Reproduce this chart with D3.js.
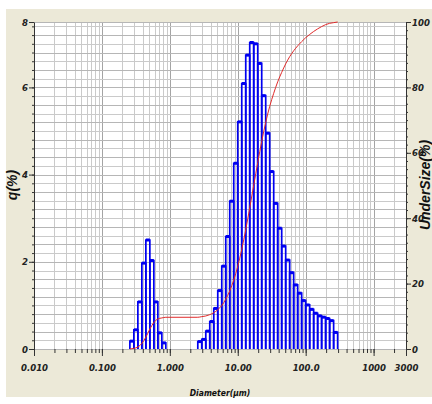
<!DOCTYPE html>
<html>
<head>
<meta charset="utf-8">
<script src="https://cdn.jsdelivr.net/npm/d3@7"></script>
<style>
  body { margin: 0; background: #fff; }
  svg { display: block; }
</style>
</head>
<body>
<svg id="chart" width="432" height="404"></svg>
<script>
// bin boundaries (um) and frequency q(%) of the two modes
const fineEdges = [0.258, 0.2954, 0.3383, 0.3873, 0.4435, 0.5078, 0.5815, 0.6658, 0.7624, 0.873];
const fineQ = [0.18, 0.44, 1.08, 1.97, 2.5, 2.03, 1.08, 0.37, 0.14];
const coarseEdges = [2.58, 2.954, 3.383, 3.873, 4.435, 5.078, 5.815, 6.658, 7.624, 8.73,
  9.996, 11.45, 13.11, 15.01, 17.18, 19.68, 22.53, 25.8, 29.54, 33.83,
  38.73, 44.35, 50.78, 58.15, 66.58, 76.24, 87.3, 99.96, 114.5, 131.1,
  150.1, 171.8, 196.8, 225.3, 258, 295.4];
const coarseQ = [0.17, 0.22, 0.41, 0.63, 0.93, 1.34, 1.9, 2.58, 3.39, 4.26,
  5.21, 6.09, 6.74, 7.03, 7.0, 6.55, 5.81, 4.95, 4.07, 3.34,
  2.77, 2.36, 2.04, 1.75, 1.47, 1.28, 1.11, 1.01, 0.91, 0.82,
  0.76, 0.73, 0.7, 0.65, 0.38];
// cumulative undersize (%) at the same boundaries
const fineUnder = [0, 0.2, 0.6, 1.7, 3.6, 6.1, 8.1, 9.2, 9.5, 9.7];
const coarseUnder = [9.7, 9.9, 10.1, 10.5, 11.1, 12.0, 13.3, 15.2, 17.8, 21.1,
  25.3, 30.5, 36.5, 43.2, 50.1, 57.0, 63.5, 69.3, 74.2, 78.2,
  81.7, 84.6, 87.2, 89.4, 91.2, 92.7, 94.0, 95.2, 96.2, 97.1,
  97.9, 98.6, 99.2, 99.6, 99.8, 100];

const xTickValues = [0.01, 0.1, 1, 10, 100, 1000, 3000];
const xTickLabels = ['0.010', '0.100', '1.000', '10.00', '100.0', '1000', '3000'];
const qTickValues = [0, 2, 4, 6, 7.5];
const qTickLabels = ['0', '2', '4', '6', '8'];
const underTickValues = [0, 20, 40, 60, 80, 100];

const svg = d3.select('#chart');
const plotL = 34, plotR = 406, plotT = 22, plotB = 349;
const labelFont = '"Liberation Sans Narrow", "DejaVu Sans Condensed", "Liberation Sans", sans-serif';

const x = d3.scaleLog().domain([0.01, 3000]).range([plotL, plotR]);
const yq = d3.scaleLinear().domain([0, 7.5]).range([plotB, plotT]);
const yu = d3.scaleLinear().domain([0, 100]).range([plotB, plotT]);

// panels
svg.append('rect').attr('x', 6).attr('y', 9).attr('width', 426).attr('height', 388).attr('fill', '#ece9d8');
svg.append('rect').attr('x', plotL).attr('y', plotT).attr('width', plotR - plotL).attr('height', plotB - plotT).attr('fill', '#fff');

// grid
const grid = svg.append('g').attr('shape-rendering', 'crispEdges');
const decades = [0.01, 0.1, 1, 10, 100, 1000];
grid.selectAll('line.v')
  .data(x.ticks())
  .join('line')
  .attr('x1', d => Math.round(x(d)) + 0.5)
  .attr('x2', d => Math.round(x(d)) + 0.5)
  .attr('y1', plotT)
  .attr('y2', plotB)
  .attr('stroke', d => (decades.includes(d) ? '#a4a4a4' : '#cacaca'));
grid.selectAll('line.h')
  .data(d3.range(0, 7.45, 0.2).concat([7.5]))
  .join('line')
  .attr('x1', plotL)
  .attr('x2', plotR)
  .attr('y1', d => Math.round(yq(d)) + 0.5)
  .attr('y2', d => Math.round(yq(d)) + 0.5)
  .attr('stroke', (d, i) => (i % 2 === 0 ? '#b6b6b6' : '#cacaca'));

// histogram bars: outline only, thick top
const bars = svg.append('g');
function drawBars(edges, values) {
  const data = values.map((v, i) => ({ x0: edges[i], x1: edges[i + 1], v: v }));
  bars.selectAll(null)
    .data(data)
    .join('path')
    .attr('d', d => `M${x(d.x0)},${yq(0)}V${yq(d.v)}H${x(d.x1)}V${yq(0)}`)
    .attr('fill', 'none')
    .attr('stroke', '#0000f0')
    .attr('stroke-width', 1.7);
  bars.selectAll(null)
    .data(data)
    .join('line')
    .attr('x1', d => x(d.x0))
    .attr('x2', d => x(d.x1))
    .attr('y1', d => yq(d.v))
    .attr('y2', d => yq(d.v))
    .attr('stroke', '#0000f0')
    .attr('stroke-width', 3);
}
drawBars(fineEdges, fineQ);
drawBars(coarseEdges, coarseQ);

// cumulative undersize curve
const curvePts = fineEdges.map((d, i) => [d, fineUnder[i]])
  .concat(coarseEdges.map((d, i) => [d, coarseUnder[i]]));
svg.append('path')
  .datum(curvePts)
  .attr('fill', 'none')
  .attr('stroke', '#e02a2a')
  .attr('stroke-width', 1)
  .attr('d', d3.line().x(d => x(d[0])).y(d => yu(d[1])).curve(d3.curveMonotoneX));

function styleAxis(g) {
  g.selectAll('.tick line').attr('stroke', '#333');
  g.selectAll('text')
    .attr('font-family', labelFont)
    .attr('font-size', 9.5)
    .attr('font-weight', 'bold')
    .attr('font-style', 'italic')
    .attr('fill', '#222');
}

// x axis
const xMinor = svg.append('g')
  .attr('transform', `translate(0,${plotB})`)
  .call(d3.axisBottom(x).tickValues(x.ticks()).tickSize(4).tickSizeOuter(0).tickFormat(''));
xMinor.select('.domain').remove();
styleAxis(xMinor);
const xAxis = svg.append('g')
  .attr('transform', `translate(0,${plotB})`)
  .call(d3.axisBottom(x).tickValues(xTickValues).tickSize(7).tickPadding(8).tickFormat((d, i) => xTickLabels[i]));
xAxis.select('.domain').remove();
styleAxis(xAxis);

// left axis
const qMinor = svg.append('g')
  .attr('transform', `translate(${plotL},0)`)
  .call(d3.axisLeft(yq).tickValues(d3.range(0, 7.45, 0.2)).tickSize(2).tickSizeOuter(0).tickFormat(''));
qMinor.select('.domain').attr('stroke', '#333');
styleAxis(qMinor);
const qAxis = svg.append('g')
  .attr('transform', `translate(${plotL},0)`)
  .call(d3.axisLeft(yq).tickValues(qTickValues).tickSize(5).tickPadding(1).tickFormat((d, i) => qTickLabels[i]));
qAxis.select('.domain').remove();
styleAxis(qAxis);

// right axis
const uMinor = svg.append('g')
  .attr('transform', `translate(${plotR},0)`)
  .call(d3.axisRight(yu).tickValues(d3.range(0, 100.1, 2.5)).tickSize(2).tickSizeOuter(0).tickFormat(''));
uMinor.select('.domain').attr('stroke', '#333');
styleAxis(uMinor);
const uAxis = svg.append('g')
  .attr('transform', `translate(${plotR},0)`)
  .call(d3.axisRight(yu).tickValues(underTickValues).tickSize(5).tickPadding(1));
uAxis.select('.domain').remove();
styleAxis(uAxis);

// titles
const titleFont = '"Liberation Sans", Arial, sans-serif';
svg.append('text')
  .attr('transform', 'translate(17,185) rotate(-90)')
  .attr('text-anchor', 'middle')
  .attr('font-family', titleFont)
  .attr('font-size', 14)
  .attr('font-weight', 'bold')
  .attr('font-style', 'italic')
  .attr('fill', '#111')
  .text('q(%)');
svg.append('text')
  .attr('transform', 'translate(430,185) rotate(-90)')
  .attr('text-anchor', 'middle')
  .attr('font-family', titleFont)
  .attr('font-size', 14)
  .attr('font-weight', 'bold')
  .attr('font-style', 'italic')
  .attr('fill', '#111')
  .text('UnderSize(%)');
svg.append('text')
  .attr('x', 220)
  .attr('y', 396)
  .attr('text-anchor', 'middle')
  .attr('font-family', labelFont)
  .attr('font-size', 8.5)
  .attr('font-weight', 'bold')
  .attr('font-style', 'italic')
  .attr('fill', '#111')
  .text('Diameter(μm)');
</script>
</body>
</html>
